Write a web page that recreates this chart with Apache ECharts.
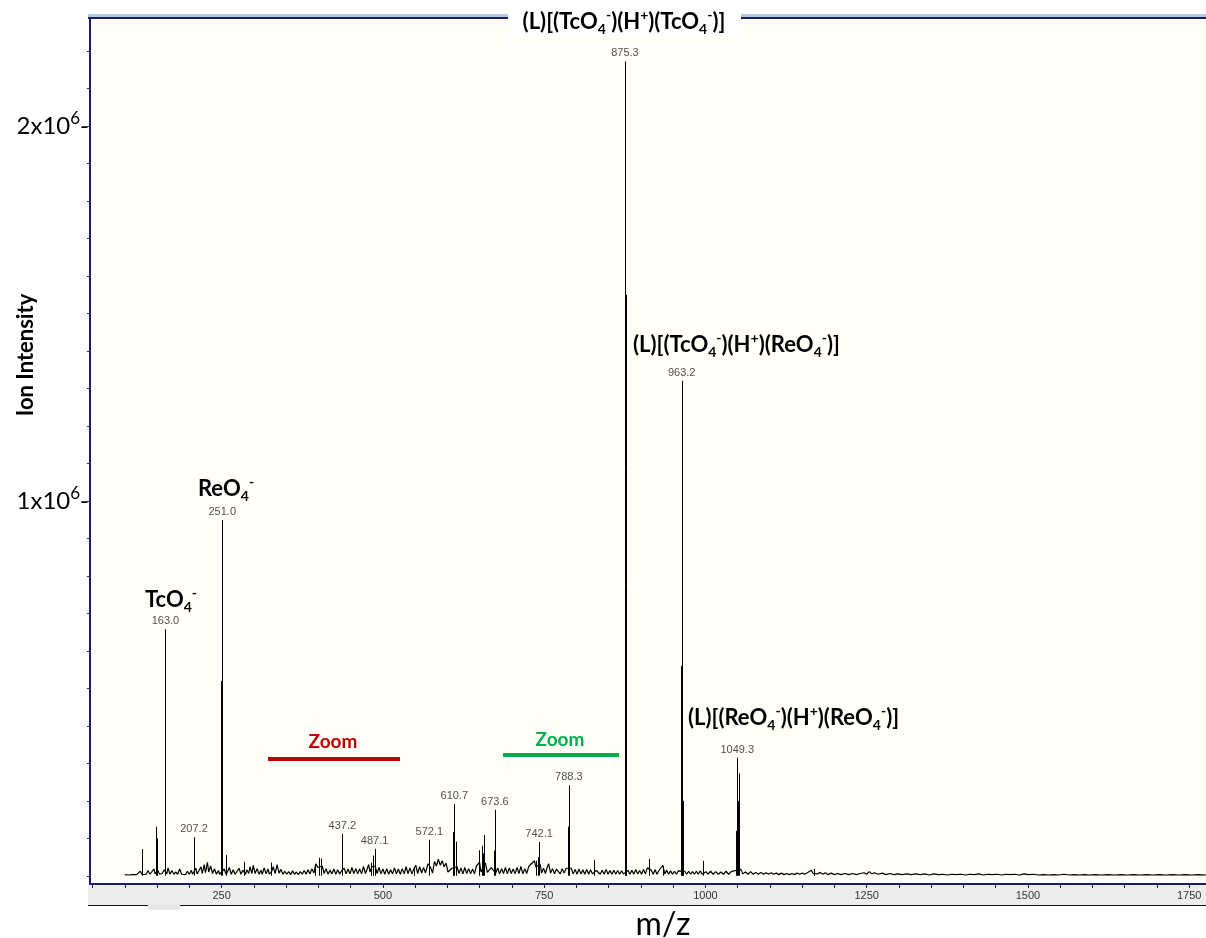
<!DOCTYPE html>
<html>
<head>
<meta charset="utf-8">
<script src="https://cdn.jsdelivr.net/npm/echarts@6/dist/echarts.min.js"></script>
<style>
  html, body { margin: 0; padding: 0; background: #ffffff; }
  #chart { width: 1206px; height: 938px; }
</style>
</head>
<body>
<div id="chart"></div>
<script>
// Labelled peaks: m/z and ion intensity (counts)
const labeledMz = [163.0, 207.2, 251.0, 437.2, 487.1, 572.1, 610.7, 673.6, 742.1, 788.3, 875.3, 963.2, 1049.3];
const labeledIntensity = [658000, 103000, 949000, 112000, 72000, 96000, 192000, 176000, 90000, 241000, 2173000, 1321000, 315000];

// Unlabelled sticks: isotope partners and smaller ions
const minorMz = [126.4, 148.6, 150.0, 249.0, 257.1, 284.0, 326.0, 395.0, 401.0, 404.0, 481.0, 485.0, 549.0,
  608.8, 612.7, 648.5, 653.0, 655.0, 657.0, 672.0, 738.0, 740.0, 786.3, 827.8, 876.3, 877.3,
  913.0, 934.0, 962.2, 963.8, 964.2, 965.2, 997.0, 1047.3, 1050.3, 1051.3, 1168.0];
const minorIntensity = [71000, 131000, 100000, 520000, 55000, 37000, 35000, 28000, 48000, 46000, 35000, 54000, 23000,
  117000, 91000, 68000, 80000, 60000, 109000, 67000, 40000, 50000, 131000, 42000, 1550000, 280000,
  45000, 25000, 560000, 780000, 500000, 200000, 40000, 120000, 200000, 273000, 18000];

// Baseline trace: [m/z, intensity in thousands of counts]
const baselineK = [
  [100,3],[103,4],[106,2],[109,5],[112,3],[115,6],[118,3],[121,4],[124,12],[127,3],[130,5],[133,4],[136,14],[139,4],
  [142,6],[145,18],[147,5],[151,15],[154,4],[158,6],[161,16],[165,5],[167,21],[170,4],[173,14],[176,4],[179,10],[182,4],
  [185,18],[188,4],[191,6],[194,3],[197,12],[200,4],[203,15],[205,4],[210,20],[212,5],[215,14],[218,24],[220,6],[223,30],
  [225,8],[228,36],[230,10],[233,26],[236,6],[239,18],[242,4],[245,14],[247,4],[254,18],[257,4],[260,14],[262,22],[265,4],
  [268,16],[271,4],[274,12],[277,20],[280,4],[283,15],[287,4],[289,16],[292,6],[294,24],[297,6],[299,28],[302,6],[305,19],
  [308,4],[311,15],[313,4],[316,21],[319,5],[322,18],[324,4],[328,13],[330,24],[333,6],[336,30],[339,7],[342,17],[345,4],
  [348,12],[351,4],[354,11],[357,3],[360,13],[363,4],[366,10],[369,3],[372,11],[375,4],[378,14],[381,4],[384,16],[387,5],
  [390,19],[393,7],[396,32],[399,22],[406,26],[409,6],[412,19],[415,4],[418,15],[421,5],[424,18],[427,4],[430,16],[433,5],
  [436,13],[440,20],[443,5],[446,18],[449,5],[452,22],[455,6],[458,19],[461,5],[464,18],[467,5],[470,25],[473,6],[476,20],
  [478,30],[480,10],[483,24],[488,26],[491,6],[494,22],[497,5],[500,18],[503,4],[506,19],[509,4],[512,16],[515,5],[518,21],
  [521,5],[524,18],[527,4],[530,19],[533,5],[536,24],[539,6],[542,21],[545,5],[548,18],[551,28],[554,6],[557,24],[560,7],
  [563,22],[566,8],[570,32],[574,22],[577,7],[580,38],[583,26],[586,44],[589,28],[592,40],[595,24],[598,34],[601,10],[604,5],
  [607,20],[615,24],[618,6],[621,21],[624,5],[627,22],[630,6],[633,19],[636,5],[639,18],[642,5],[645,26],[650,36],[652,10],
  [659,34],[662,9],[665,5],[668,22],[675,7],[678,21],[681,5],[684,19],[687,6],[690,22],[693,5],[696,21],[699,6],[702,18],
  [705,5],[708,22],[711,6],[714,25],[717,5],[720,19],[723,6],[726,24],[729,30],[732,34],[735,40],[737,24],[744,30],[746,7],
  [749,20],[752,6],[755,24],[757,32],[760,7],[763,19],[766,5],[769,18],[772,22],[775,5],[778,19],[781,7],[784,20],[792,20],
  [795,5],[798,17],[801,4],[804,18],[807,5],[810,16],[813,4],[816,17],[819,4],[822,16],[825,5],[831,14],[834,18],[837,4],
  [840,15],[843,4],[846,17],[849,4],[852,14],[855,4],[858,15],[861,4],[864,14],[867,4],[870,13],[873,5],[880,14],[883,4],
  [886,15],[889,4],[892,17],[895,5],[898,14],[901,4],[904,17],[907,5],[910,21],[916,15],[919,4],[922,16],[925,4],[928,14],
  [931,19],[934,28],[937,5],[940,15],[943,4],[946,13],[949,4],[952,12],[955,4],[958,13],[968,12],[971,4],[974,12],[977,4],
  [980,11],[983,4],[986,12],[989,4],[992,13],[995,4],[1001,11],[1004,4],[1008,12],[1012,4],[1016,11],[1020,4],[1024,10],[1028,4],
  [1032,12],[1036,4],[1040,11],[1044,13],[1055,17],[1058,5],[1062,10],[1066,4],[1070,11],[1074,4],[1078,9],[1082,4],[1086,9],
  [1090,4],[1094,8],[1098,4],[1102,8],[1106,4],[1110,7],[1114,3],[1118,7],[1122,3],[1126,6],[1130,3],[1134,6],[1138,3],
  [1142,7],[1146,4],[1150,7],[1154,4],[1158,8],[1161,10],[1164,15],[1167,6],[1170,11],[1174,5],[1178,9],[1182,4],[1186,8],
  [1190,3],[1195,7],[1200,3],[1205,6],[1210,3],[1216,6],[1222,3],[1228,6],[1234,3],[1240,6],[1246,8],[1250,4],[1254,11],
  [1258,5],[1262,8],[1268,4],[1274,7],[1280,3],[1286,6],[1292,3],[1298,5],[1305,3],[1312,5],[1319,3],[1326,5],[1333,3],
  [1340,5],[1347,2],[1354,5],[1361,3],[1368,4],[1375,2],[1382,4],[1389,3],[1396,4],[1403,2],[1410,4],[1417,3],[1424,5],
  [1431,2],[1438,4],[1445,3],[1452,4],[1459,2],[1466,4],[1473,3],[1480,4],[1487,2],[1494,5],[1501,3],[1508,4],[1516,2],
  [1524,3],[1532,2],[1540,3],[1548,2],[1556,4],[1564,2],[1572,3],[1580,2],[1588,3],[1596,2],[1604,3],[1614,2],[1624,3],
  [1634,2],[1644,3],[1654,2],[1664,3],[1674,2],[1684,3],[1694,2],[1704,3],[1714,2],[1724,3],[1734,2],[1744,3],[1754,2],
  [1764,3],[1776,2]
];

// Axis ticks and labels
const xTickValues = [50,100,150,200,250,300,350,400,450,500,550,600,650,700,750,800,850,900,950,1000,
  1050,1100,1150,1200,1250,1300,1350,1400,1450,1500,1550,1600,1650,1700,1750];
const xLabelValues = [250, 500, 750, 1000, 1250, 1500, 1750];
const yTickValues = [0,100000,200000,300000,400000,500000,600000,700000,800000,900000,1000000,1100000,1200000,
  1300000,1400000,1500000,1600000,1700000,1800000,1900000,2000000,2100000,2200000];
const yLabelValues = [1000000, 2000000];
const yLabelText = { 1000000: '1x10', 2000000: '2x10' };

const NAVY = '#1b1b68';
const ANN_FONT = 'Lato, "Open Sans", sans-serif';

// rich styles for chemical formulas (subscript 4, superscript charges)
const chemRich = {
  b: { fontFamily: ANN_FONT, fontWeight: 'bold', fontSize: 22, lineHeight: 28, verticalAlign: 'middle', color: '#000' },
  sub: { fontFamily: ANN_FONT, fontWeight: 'bold', fontSize: 14, lineHeight: 13, verticalAlign: 'bottom', color: '#000' },
  sup: { fontFamily: ANN_FONT, fontWeight: 'bold', fontSize: 14, lineHeight: 13, verticalAlign: 'top', color: '#000' }
};
function oxoAnion(metal) { return '{b|' + metal + 'O}{sub|4}{sup|-}'; }
function dimer(a, b) {
  return '{b|(L)[(}' + oxoAnion(a) + '{b|)(H}{sup|+}{b|)(}' + oxoAnion(b) + '{b|)]}';
}

function stick(params, api) {
  const top = api.coord([api.value(0), api.value(1)]);
  const base = api.coord([api.value(0), 0]);
  const x = Math.round(top[0]) + 0.5;
  return {
    type: 'line',
    shape: { x1: x, y1: base[1], x2: x, y2: top[1] },
    style: { stroke: '#000', lineWidth: 1 }
  };
}

function annText(x, y, text, align) {
  return {
    type: 'text', x: x, y: y, z: 100,
    style: { text: text, rich: chemRich, align: align || 'left', verticalAlign: 'middle' }
  };
}

const chart = echarts.init(document.getElementById('chart'), null, { renderer: 'canvas' });

chart.setOption({
  animation: false,
  backgroundColor: '#ffffff',
  grid: { left: 90, top: 19, right: 0, bottom: 54, show: true, backgroundColor: '#fffff7', borderWidth: 0 },
  xAxis: {
    type: 'value', min: 46, max: 1776,
    axisLine: { show: true, onZero: false, lineStyle: { color: NAVY, width: 2 } },
    axisTick: { show: true, inside: false, length: 4, customValues: xTickValues, lineStyle: { color: NAVY, width: 1 } },
    axisLabel: {
      customValues: xLabelValues, margin: 6, color: '#333', fontSize: 11,
      fontFamily: '"Liberation Sans", Arial, sans-serif',
      formatter: function (v) { return String(v); }
    },
    splitLine: { show: false }
  },
  yAxis: {
    type: 'value', min: -22000, max: 2286000,
    axisLine: { show: true, onZero: false, lineStyle: { color: NAVY, width: 2 } },
    axisTick: { show: true, inside: false, length: 3, customValues: yTickValues, lineStyle: { color: '#333', width: 1 } },
    axisLabel: {
      customValues: yLabelValues, margin: 1,
      formatter: function (v) { return '{n|' + yLabelText[v] + '}{s|6}{n|-}'; },
      rich: {
        n: { fontFamily: ANN_FONT, fontSize: 24, lineHeight: 32, verticalAlign: 'middle', color: '#000' },
        s: { fontFamily: ANN_FONT, fontSize: 17, lineHeight: 17, verticalAlign: 'top', color: '#000' }
      }
    },
    splitLine: { show: false }
  },
  series: [
    {
      type: 'line', showSymbol: false, symbol: 'none',
      data: baselineK.map(function (p) { return [p[0], p[1] * 1000]; }),
      lineStyle: { color: '#000', width: 1.2 }, z: 2
    },
    {
      type: 'custom', renderItem: stick, z: 3,
      data: minorMz.map(function (m, i) { return [m, minorIntensity[i]]; })
    },
    {
      type: 'custom', renderItem: stick, z: 3,
      data: labeledMz.map(function (m, i) { return [m, labeledIntensity[i]]; })
    },
    {
      type: 'scatter', symbolSize: 1, itemStyle: { color: 'rgba(0,0,0,0)' }, z: 4,
      data: labeledMz.map(function (m, i) { return [m, labeledIntensity[i]]; }),
      label: {
        show: true, position: 'top', distance: 2, color: '#222', fontSize: 11,
        fontFamily: '"Liberation Sans", Arial, sans-serif',
        formatter: function (p) { return p.value[0].toFixed(1); }
      }
    }
  ],
  graphic: [
    // frame decorations
    { type: 'rect', z: -1, shape: { x: 88, y: 14, width: 1118, height: 3 }, style: { fill: '#b7c9e2' } },
    { type: 'rect', z: 1, shape: { x: 88, y: 17, width: 1118, height: 2 }, style: { fill: NAVY } },
    { type: 'rect', z: -1, shape: { x: 88, y: 885, width: 1118, height: 20 }, style: { fill: '#ededed' } },
    { type: 'rect', z: 1, shape: { x: 88, y: 905, width: 60, height: 1 }, style: { fill: '#111' } },
    { type: 'rect', z: 1, shape: { x: 148, y: 905, width: 32, height: 5 }, style: { fill: '#e6e6e6' } },
    { type: 'rect', z: 1, shape: { x: 180, y: 905, width: 1026, height: 1 }, style: { fill: '#111' } },
    // title box
    { type: 'rect', z: 50, shape: { x: 508, y: 2, width: 233, height: 36 }, style: { fill: '#ffffff' } },
    annText(624, 22, dimer('Tc', 'Tc'), 'center'),
    annText(633, 345, dimer('Tc', 'Re'), 'left'),
    annText(688, 718, dimer('Re', 'Re'), 'left'),
    annText(171, 600, oxoAnion('Tc'), 'center'),
    annText(226, 489, oxoAnion('Re'), 'center'),
    // axis titles
    {
      type: 'text', x: 26, y: 355, rotation: Math.PI / 2, z: 100,
      style: { text: 'Ion Intensity', font: 'bold 22px ' + ANN_FONT, fill: '#000', align: 'center', verticalAlign: 'middle' }
    },
    {
      type: 'text', x: 663, y: 925, z: 100,
      style: { text: 'm/z', font: '32px ' + ANN_FONT, fill: '#000', align: 'center', verticalAlign: 'middle' }
    },
    // zoom markers
    {
      type: 'text', x: 333, y: 742, z: 100,
      style: { text: 'Zoom', font: 'bold 19px ' + ANN_FONT, fill: '#c00000', align: 'center', verticalAlign: 'middle' }
    },
    { type: 'rect', z: 100, shape: { x: 268, y: 757, width: 132, height: 4 }, style: { fill: '#c00000' } },
    {
      type: 'text', x: 560, y: 740, z: 100,
      style: { text: 'Zoom', font: 'bold 19px ' + ANN_FONT, fill: '#00b050', align: 'center', verticalAlign: 'middle' }
    },
    { type: 'rect', z: 100, shape: { x: 503, y: 753, width: 116, height: 4 }, style: { fill: '#00b050' } }
  ]
});
</script>
</body>
</html>
